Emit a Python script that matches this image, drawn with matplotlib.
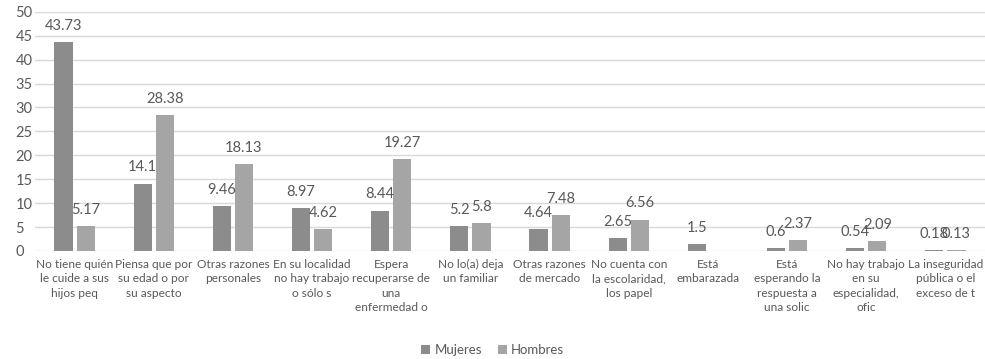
import matplotlib.pyplot as plt
import numpy as np

categories = ["No tiene quién\nle cuide a sus\nhijos peq",
              "Piensa que por\nsu edad o por\nsu aspecto",
              "Otras razones\npersonales",
              "En su localidad\nno hay trabajo\no sólo s",
              "Espera\nrecuperarse de\nuna\nenfermedad o",
              "No lo(a) deja\nun familiar",
              "Otras razones\nde mercado",
              "No cuenta con\nla escolaridad,\nlos papel",
              "Está\nembarazada",
              "Está\nesperando la\nrespuesta a\nuna solic",
              "No hay trabajo\nen su\nespecialidad,\nofic",
              "La inseguridad\npública o el\nexceso de t"]
mujeres = [43.73, 14.1, 9.46, 8.97, 8.44, 5.2, 4.64, 2.65, 1.5, 0.6, 0.54, 0.18]
hombres = [5.17, 28.38, 18.13, 4.62, 19.27, 5.8, 7.48, 6.56, None, 2.37, 2.09, 0.13]

plt.rcParams['font.family'] = ['Lato', 'DejaVu Sans']
txt = "#595959"

fig = plt.figure(figsize=(9.85, 3.59), dpi=100)
ax = fig.add_axes([0.0355, 0.301, 0.9645, 0.666])

x = np.arange(len(categories))
w = 0.23
off = 0.14
hv = [np.nan if v is None else v for v in hombres]
b1 = ax.bar(x - off, mujeres, w, color="#8c8c8c", label="Mujeres", zorder=3)
b2 = ax.bar(x + off, hv, w, color="#a5a5a5", label="Hombres", zorder=3)

for xi, v in zip(x, mujeres):
    ax.text(xi - off, v + 1.9, f"{v:g}", ha="center", va="bottom", fontsize=10.5, color=txt)
for xi, v in zip(x, hombres):
    if v is not None:
        ax.text(xi + off, v + 1.9, f"{v:g}", ha="center", va="bottom", fontsize=10.5, color=txt)

ax.set_xlim(-0.5, len(categories) - 0.5)
ax.set_ylim(0, 50)
ax.set_yticks(range(0, 51, 5))
ax.set_xticks(x)
ax.set_xticklabels(categories, fontsize=8.6, color=txt, va="top", linespacing=1.35)
ax.tick_params(axis="y", labelsize=10.5, labelcolor=txt, length=0, pad=14)
ax.tick_params(axis="x", length=0, pad=6)
ax.grid(axis="y", color="#d9d9d9", linewidth=1, zorder=0)
for s in ax.spines.values():
    s.set_visible(False)
for lab in ax.get_yticklabels():
    lab.set_horizontalalignment("left")

fig.legend(handles=[b1, b2], loc="center", bbox_to_anchor=(0.5, 0.025), ncol=2,
           frameon=False, fontsize=9.5, labelcolor=txt, handlelength=0.7,
           handleheight=0.7, handletextpad=0.3, columnspacing=1.2)

fig.savefig("out.png", dpi=100)
